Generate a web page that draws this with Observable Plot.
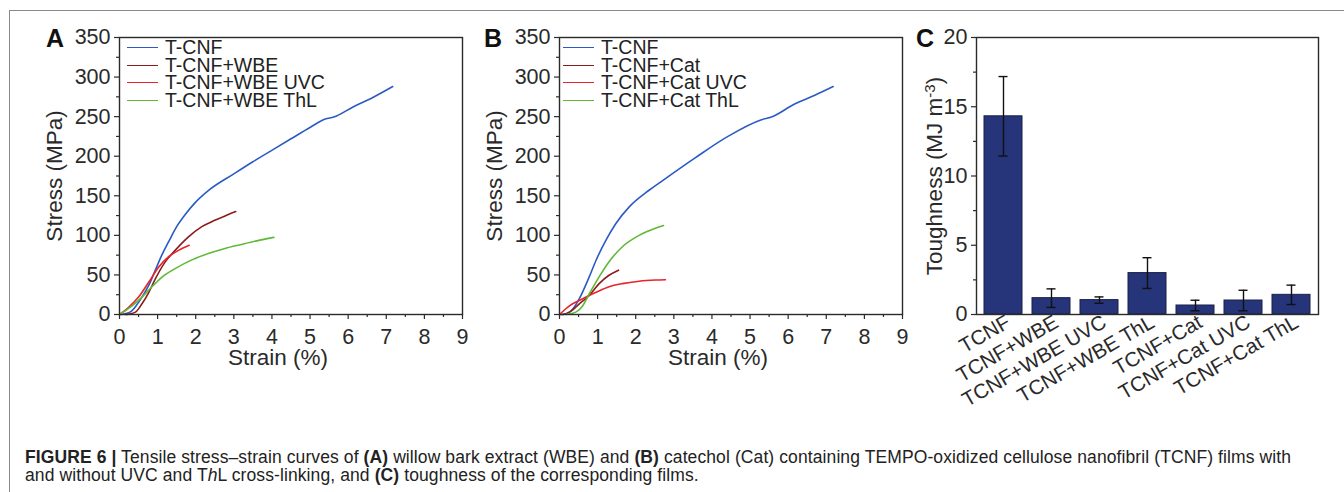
<!DOCTYPE html>
<html><head><meta charset="utf-8">
<script src="https://cdn.jsdelivr.net/npm/d3@7"></script>
<script src="https://cdn.jsdelivr.net/npm/@observablehq/plot@0.6"></script>
<style>
html,body{margin:0;padding:0;background:#fff;}
#fig{position:relative;width:1344px;height:492px;overflow:hidden;font-family:"Liberation Sans",Arial,sans-serif;color:#1a1a1a;background:#fff;}
#border{position:absolute;left:9px;top:10px;right:-5px;bottom:-5px;border-left:1px solid #8a8a8a;border-top:1px solid #8a8a8a;}
.panel{position:absolute;top:0;}
.panel svg{display:block;overflow:visible;}
.letter{position:absolute;font-weight:bold;font-size:25px;line-height:25px;color:#111;}
.legend{position:absolute;font-size:19.5px;line-height:17.5px;color:#222;}
.legend .row{display:flex;align-items:center;height:17.5px;white-space:nowrap;}
.legend .sw{width:31px;height:0;border-top:1.5px solid;margin-right:7px;}
#caption{position:absolute;left:25px;top:447.5px;font-size:17.5px;letter-spacing:0.1px;line-height:18.5px;white-space:nowrap;color:#222;}
</style></head>
<body><div id="fig"><div id="border"></div></div>
<script>
// ---------- data ----------
const seriesA = ["T-CNF", "T-CNF+WBE", "T-CNF+WBE UVC", "T-CNF+WBE ThL"];
const seriesB = ["T-CNF", "T-CNF+Cat", "T-CNF+Cat UVC", "T-CNF+Cat ThL"];
const lineColors = ["#2a5bc4", "#8c1c1c", "#e8232b", "#5fb936"];

const strainA_TCNF = [0, 0.1, 0.2, 0.33, 0.45, 0.59, 0.77, 0.94, 1.11, 1.29, 1.5, 1.72, 1.98, 2.37, 3.0, 3.5, 4.05, 4.5, 5.01, 5.4, 5.62, 6.14, 6.6, 7.17];
const stressA_TCNF = [0, 0.5, 1.5, 5, 12, 22, 37, 56, 75, 92, 111, 126, 141, 158, 177.7, 193, 209, 222, 236.6, 247, 249.5, 262.6, 273, 288];
const strainA_WBE = [0.15, 0.24, 0.42, 0.59, 0.77, 0.94, 1.2, 1.46, 1.81, 2.16, 2.5, 2.77, 3.05];
const stressA_WBE = [0, 0.5, 3, 13.5, 28, 45, 66.5, 81, 98, 111, 119, 124.6, 130];
const strainA_UVC = [0, 0.24, 0.5, 0.77, 1.03, 1.29, 1.55, 1.83];
const stressA_UVC = [0, 9, 22, 41, 60, 73, 81, 87.5];
const strainA_ThL = [0, 0.33, 0.59, 0.85, 1.11, 1.46, 1.9, 2.33, 2.77, 3.2, 3.6, 4.05];
const stressA_ThL = [0, 11, 22, 35, 47, 58, 69, 77, 83.5, 88.5, 93, 97.5];

const strainB_TCNF = [0, 0.13, 0.35, 0.52, 0.78, 0.96, 1.22, 1.48, 1.83, 2.35, 2.67, 3.55, 4.42, 5.3, 5.56, 6.17, 6.7, 7.18];
const stressB_TCNF = [0, 0.5, 7, 20, 47.5, 68.6, 94, 115, 136, 157, 168, 197.6, 225, 246, 249.5, 266, 277, 288];
const strainB_Cat = [0.1, 0.26, 0.52, 0.78, 1.04, 1.3, 1.55];
const stressB_Cat = [0, 3, 13.5, 24, 39, 49.6, 56];
const strainB_UVC = [0, 0.26, 0.61, 0.96, 1.3, 1.65, 2.09, 2.52, 2.78];
const stressB_UVC = [0, 11, 20, 28, 35, 39, 42, 43.5, 44];
const strainB_ThL = [0.17, 0.43, 0.61, 0.78, 1.04, 1.3, 1.65, 2.09, 2.52, 2.73];
const stressB_ThL = [0, 3, 11, 26, 47.5, 66.6, 85.6, 100, 109, 112.5];

const stressTicks = [0, 50, 100, 150, 200, 250, 300, 350];
const stressMinor = [25, 75, 125, 175, 225, 275, 325];
const strainTicks = [0, 1, 2, 3, 4, 5, 6, 7, 8, 9];
const strainMinor = [0.5, 1.5, 2.5, 3.5, 4.5, 5.5, 6.5, 7.5, 8.5];

const categories = ["TCNF", "TCNF+WBE", "TCNF+WBE UVC", "TCNF+WBE ThL", "TCNF+Cat", "TCNF+Cat UVC", "TCNF+Cat ThL"];
const toughness = [14.31, 1.18, 1.04, 2.99, 0.65, 1.01, 1.42];
const toughnessErr = [2.87, 0.67, 0.23, 1.11, 0.38, 0.74, 0.70];
const toughTicks = [0, 5, 10, 15, 20];
const toughMinor = [2.5, 7.5, 12.5, 17.5];

const stressLabel = "Stress (MPa)";
const strainLabel = "Strain (%)";
const toughLabel = "Toughness (MJ m-3)";
const captionHTML = '<b>FIGURE 6 |</b> Tensile stress–strain curves of <b>(A)</b> willow bark extract (WBE) and <b>(B)</b> catechol (Cat) containing TEMPO-oxidized cellulose nanofibril (TCNF) films with<br>and without UVC and T<i>h</i>L cross-linking, and <b>(C)</b> toughness of the corresponding films.';

// ---------- helpers ----------
const fig = document.getElementById("fig");
const FONT = '"Liberation Sans", Arial, sans-serif';
const axisColor = "#2a2a2a";

function addDiv(cls, css, html) {
  const d = document.createElement("div");
  d.className = cls;
  Object.assign(d.style, css);
  if (html != null) d.innerHTML = html;
  fig.appendChild(d);
  return d;
}

function curvePanel({left, width, series, strains, stresses, letter, letterLeft, legendLeft}) {
  const data = [];
  series.forEach((s, k) => strains[k].forEach((x, i) => data.push({s, x, y: stresses[k][i]})));
  const plot = Plot.plot({
    width, height: 380,
    marginLeft: 119, marginRight: width - 462, marginTop: 37, marginBottom: 66,
    x: {domain: [0, 9]},
    y: {domain: [0, 350]},
    color: {domain: series, range: lineColors},
    style: {fontFamily: FONT, fontSize: "21.5px", color: axisColor, background: "transparent", overflow: "visible"},
    marks: [
      Plot.line(data, {x: "x", y: "y", stroke: "s", z: "s", strokeWidth: 1.6, curve: "monotone-x"}),
      Plot.frame({stroke: axisColor, strokeWidth: 1.4}),
      Plot.axisY({ticks: stressTicks, tickSize: 5, tickPadding: 4, label: null, stroke: axisColor, strokeWidth: 1.2}),
      Plot.axisY({ticks: stressMinor, tickSize: 3, tickFormat: () => "", label: null, stroke: axisColor, strokeWidth: 1.2}),
      Plot.axisX({ticks: strainTicks, tickSize: 5, tickPadding: 9, label: null, stroke: axisColor, strokeWidth: 1.2}),
      Plot.axisX({ticks: strainMinor, tickSize: 3, tickFormat: () => "", label: null, stroke: axisColor, strokeWidth: 1.2}),
      Plot.text([stressLabel], {frameAnchor: "left", textAnchor: "middle", lineAnchor: "middle", dx: -65, rotate: -90, fontSize: 22.5, fill: axisColor}),
      Plot.text([strainLabel], {frameAnchor: "bottom", textAnchor: "middle", lineAnchor: "middle", dx: -13, dy: 43, fontSize: 22.5, fill: axisColor})
    ]
  });
  const holder = addDiv("panel", {left: left + "px", width: width + "px"});
  holder.appendChild(plot);
  addDiv("letter", {left: letterLeft + "px", top: "26px"}, letter);
  const leg = addDiv("legend", {left: legendLeft + "px", top: "39px"});
  series.forEach((s, k) => {
    const row = document.createElement("div");
    row.className = "row";
    const sw = document.createElement("span");
    sw.className = "sw";
    sw.style.borderTopColor = lineColors[k];
    row.appendChild(sw);
    row.appendChild(document.createTextNode(s));
    leg.appendChild(row);
  });
}

curvePanel({left: 0, width: 480, series: seriesA,
  strains: [strainA_TCNF, strainA_WBE, strainA_UVC, strainA_ThL],
  stresses: [stressA_TCNF, stressA_WBE, stressA_UVC, stressA_ThL],
  letter: "A", letterLeft: 46, legendLeft: 127});

curvePanel({left: 439.5, width: 480, series: seriesB,
  strains: [strainB_TCNF, strainB_Cat, strainB_UVC, strainB_ThL],
  stresses: [stressB_TCNF, stressB_Cat, stressB_UVC, stressB_ThL],
  letter: "B", letterLeft: 484, legendLeft: 563});

// ---------- panel C ----------
const rows = categories.map((c, i) => ({c, v: toughness[i], e: toughnessErr[i]}));
const plotC = Plot.plot({
  width: 464, height: 420,
  marginLeft: 96, marginRight: 26, marginTop: 37, marginBottom: 106,
  x: {domain: categories, paddingInner: 0.2, paddingOuter: 0.1},
  y: {domain: [0, 20]},
  style: {fontFamily: FONT, fontSize: "21.5px", color: axisColor, background: "transparent", overflow: "visible"},
  marks: [
    Plot.barY(rows, {x: "c", y: "v", fill: "#263479", stroke: "#1b2148", strokeWidth: 1}),
    Plot.ruleX(rows, {x: "c", y1: d => d.v - d.e, y2: d => d.v + d.e, stroke: "#111", strokeWidth: 1.4}),
    Plot.tickY(rows, {x: "c", y: d => d.v + d.e, insetLeft: 14.5, insetRight: 14.5, stroke: "#111", strokeWidth: 1.4}),
    Plot.tickY(rows, {x: "c", y: d => d.v - d.e, insetLeft: 14.5, insetRight: 14.5, stroke: "#111", strokeWidth: 1.4}),
    Plot.frame({stroke: axisColor, strokeWidth: 1.4}),
    Plot.axisY({ticks: toughTicks, tickSize: 5, tickPadding: 4, label: null, stroke: axisColor, strokeWidth: 1.2}),
    Plot.axisY({ticks: toughMinor, tickSize: 3, tickFormat: () => "", label: null, stroke: axisColor, strokeWidth: 1.2}),
    Plot.axisX({tickSize: 0, tickRotate: -30, tickPadding: 6, dx: 5, label: null, fontSize: 20.5}),
    Plot.text([toughLabel], {frameAnchor: "left", textAnchor: "middle", lineAnchor: "middle", dx: -42, rotate: -90, fontSize: 22.5, fill: axisColor})
  ]
});
const holderC = addDiv("panel", {left: "880px", width: "464px"});
holderC.appendChild(plotC);
addDiv("letter", {left: "916px", top: "26px"}, "C");

// superscript in the toughness label
plotC.querySelectorAll("text").forEach(t => {
  if (t.textContent === toughLabel) {
    const base = toughLabel.replace("-3)", "");
    t.textContent = "";
    const ns = "http://www.w3.org/2000/svg";
    const a = document.createElementNS(ns, "tspan"); a.textContent = base; t.appendChild(a);
    const b = document.createElementNS(ns, "tspan"); b.textContent = "-3"; b.setAttribute("dy", "-7"); b.setAttribute("font-size", "15"); t.appendChild(b);
    const c = document.createElementNS(ns, "tspan"); c.textContent = ")"; c.setAttribute("dy", "7"); t.appendChild(c);
  }
});

addDiv("", {}, captionHTML).id = "caption";
</script></body></html>
